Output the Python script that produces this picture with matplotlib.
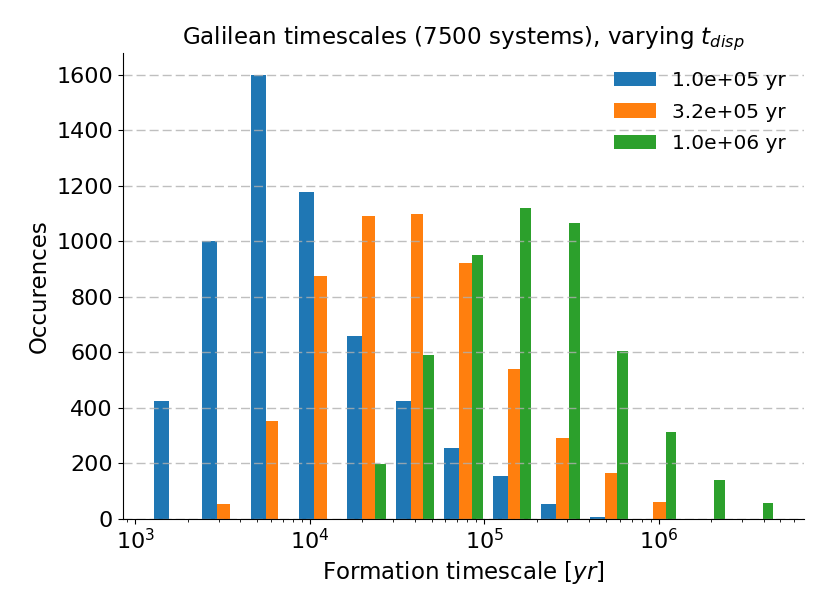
import numpy as np
import matplotlib
matplotlib.use('Agg')
import matplotlib.pyplot as plt

# Histogram bins (log10 of first and last edge) and counts per bin
bin_edges_log10 = (3.068, 6.679)
n_bins = 13
labels = ['1.0e+05 yr', '3.2e+05 yr', '1.0e+06 yr']
counts_1e5 = [425, 1000, 1598, 1178, 659, 424, 255, 152, 53, 5, 0, 0, 0]
counts_3e5 = [0, 53, 350, 874, 1090, 1097, 921, 540, 291, 164, 60, 0, 0]
counts_1e6 = [0, 0, 0, 0, 197, 590, 948, 1119, 1065, 604, 311, 138, 55]
colors = ['#1f77b4', '#ff7f0e', '#2ca02c']

edges = np.logspace(bin_edges_log10[0], bin_edges_log10[1], n_bins + 1)
centers = np.sqrt(edges[:-1] * edges[1:])

fig = plt.figure(figsize=(8.3, 6.09), dpi=100)
ax = fig.add_axes([0.1478, 0.1486, 0.8212, 0.7644])
ax.set_xscale('log')
ax.hist([centers, centers, centers], bins=edges,
        weights=[counts_1e5, counts_3e5, counts_1e6],
        label=labels, color=colors)

ax.spines['top'].set_visible(False)
ax.spines['right'].set_visible(False)
ax.yaxis.grid(True, color='#b0b0b0', alpha=0.8, linestyle=(0, (6.5, 2.9)), linewidth=1.0)

ax.set_title('Galilean timescales (7500 systems), varying $t_{disp}$', fontsize=16.6)
ax.set_xlabel('Formation timescale [$yr$]', fontsize=16.5)
ax.set_ylabel('Occurences', fontsize=16.5)
ax.tick_params(axis='both', which='major', labelsize=16)
ax.legend(loc='upper right', frameon=False, fontsize=14.5,
          handlelength=2.1, labelspacing=0.62)

fig.savefig('out.png', dpi=100)
